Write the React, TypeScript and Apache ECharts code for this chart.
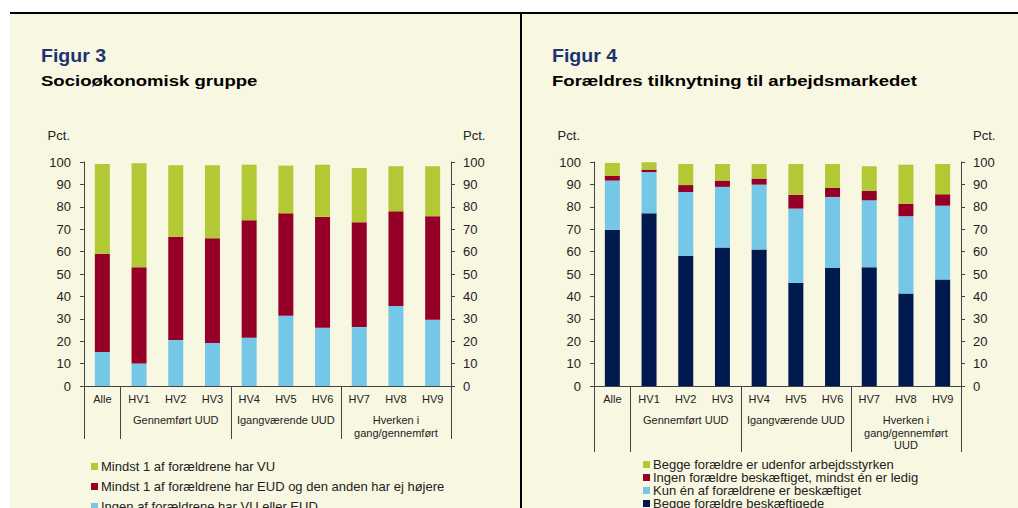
import React, { useEffect, useRef } from 'react';
import * as echarts from 'echarts';

const categories = ['Alle', 'HV1', 'HV2', 'HV3', 'HV4', 'HV5', 'HV6', 'HV7', 'HV8', 'HV9'];
const groupLabels3 = ['', '', 'Gennemført UUD', '', '', 'Igangværende UUD', '', '', 'Hverken i\ngang/gennemført', ''];
const groupLabels4 = ['', '', 'Gennemført UUD', '', '', 'Igangværende UUD', '', '', 'Hverken i\ngang/gennemført\nUUD', ''];
const separatorIdx = [0, 1, 4, 7];
const yTicks = { min: 0, max: 100, interval: 10 };

// Figur 3
const fig3Names = [
  'Ingen af forældrene har VU eller EUD',
  'Mindst 1 af forældrene har EUD og den anden har ej højere',
  'Mindst 1 af forældrene har VU',
];
const fig3Ingen = [15.2, 10.1, 20.5, 19.2, 21.5, 31.4, 26.0, 26.3, 35.7, 29.6];
const fig3EUD = [43.8, 42.9, 46.1, 46.8, 52.5, 45.7, 49.5, 46.8, 42.3, 46.2];
const fig3VU = [40.1, 46.4, 31.9, 32.5, 24.8, 21.3, 23.3, 24.2, 20.1, 22.3];

// Figur 4
const fig4Names = [
  'Begge forældre beskæftigede',
  'Kun én af forældrene er beskæftiget',
  'Ingen forældre beskæftiget, mindst én er ledig',
  'Begge forældre er udenfor arbejdsstyrken',
];
const fig4Begge = [69.8, 77.1, 58.2, 61.8, 60.9, 46.1, 52.7, 53.0, 41.3, 47.5];
const fig4Kun = [21.9, 18.4, 28.4, 27.1, 29.0, 33.1, 31.7, 29.9, 34.5, 33.0];
const fig4Ledig = [2.2, 1.1, 3.1, 2.8, 2.7, 6.1, 4.0, 4.3, 5.5, 5.1];
const fig4Uden = [5.7, 3.3, 9.4, 7.4, 6.5, 13.8, 10.7, 10.9, 17.5, 13.5];

const GREEN = '#b2c935';
const RED = '#960028';
const BLUE = '#74c7e6';
const NAVY = '#001a50';
const CREAM = '#f8f7e1';
const AXIS = '#444444';
const TXT = '#222222';
const TITLE = '#1c3370';
const FONT = '"Liberation Sans", Arial, sans-serif';

function xAxes(g: number, groups: string[], sepLen: number) {
  return [
    {
      type: 'category',
      gridIndex: g,
      data: categories,
      axisLine: { show: true, lineStyle: { color: AXIS, width: 1 } },
      axisTick: {
        show: true,
        length: sepLen,
        interval: (i: number) => separatorIdx.includes(i),
        lineStyle: { color: AXIS, width: 1 },
      },
      axisLabel: { interval: 0, fontSize: 11, color: TXT, margin: 7, fontFamily: FONT },
    },
    {
      type: 'category',
      gridIndex: g,
      position: 'bottom',
      data: categories,
      axisLine: { show: false },
      axisTick: { show: false },
      axisLabel: {
        interval: 0,
        fontSize: 11,
        lineHeight: 12.5,
        color: TXT,
        margin: 28,
        fontFamily: FONT,
        formatter: (_v: string, i: number) => groups[i],
      },
    },
  ];
}

function yAxes(g: number) {
  const base = {
    type: 'value',
    gridIndex: g,
    ...yTicks,
    splitLine: { show: false },
    axisLine: { show: true, lineStyle: { color: AXIS, width: 1 } },
    axisTick: { show: true, length: 4, lineStyle: { color: AXIS } },
    name: 'Pct.',
    nameLocation: 'end',
    nameGap: 27,
  };
  return [
    {
      ...base,
      position: 'left',
      axisLabel: { fontSize: 13, color: TXT, margin: 13, fontFamily: FONT },
      nameTextStyle: { align: 'right', verticalAlign: 'middle', padding: [0, 14, 0, 0], fontSize: 13, color: TXT, fontFamily: FONT },
    },
    {
      ...base,
      position: 'right',
      axisLabel: { fontSize: 13, color: TXT, margin: 12, fontFamily: FONT },
      nameTextStyle: { align: 'left', verticalAlign: 'middle', padding: [0, 0, 0, 12], fontSize: 13, color: TXT, fontFamily: FONT },
    },
  ];
}

function bar(name: string, data: number[], color: string, g: number) {
  return {
    type: 'bar',
    name,
    data,
    stack: 'g' + g,
    xAxisIndex: g * 2,
    yAxisIndex: g * 2,
    barWidth: 15,
    itemStyle: { color },
  };
}

function titleText(text: string, x: number, y: number, size: number, color: string, scaleX: number) {
  return {
    type: 'text',
    x,
    y,
    scaleX,
    style: { text, fontSize: size, fontWeight: 'bold', fontFamily: FONT, fill: color, verticalAlign: 'top' },
  };
}

export default function App() {
  const ref = useRef<HTMLDivElement>(null);
  useEffect(() => {
    if (!ref.current) return;
    const chart = echarts.init(ref.current, undefined, { renderer: 'svg' });
    chart.setOption({
      animation: false,
      textStyle: { fontFamily: FONT },
      graphic: {
        elements: [
          titleText('Figur 3', 41, 46, 19, TITLE, 1.03),
          titleText('Socioøkonomisk gruppe', 41, 74, 14.5, '#000', 1.28),
          titleText('Figur 4', 552, 46, 19, TITLE, 1.03),
          titleText('Forældres tilknytning til arbejdsmarkedet', 552, 74, 14.5, '#000', 1.28),
        ],
      },
      legend: [
        {
          data: [fig3Names[2], fig3Names[1], fig3Names[0]],
          orient: 'vertical',
          left: 91,
          top: 460,
          height: 120,
          itemWidth: 7,
          itemHeight: 7,
          itemGap: 7,
          icon: 'rect',
          padding: 0,
          textStyle: { fontSize: 13, color: TXT, fontFamily: FONT, padding: [0, 0, 0, -2] },
        },
        {
          data: [fig4Names[3], fig4Names[2], fig4Names[1], fig4Names[0]],
          orient: 'vertical',
          left: 643,
          top: 458,
          height: 120,
          itemWidth: 7,
          itemHeight: 7,
          itemGap: 0,
          icon: 'rect',
          padding: 0,
          textStyle: { fontSize: 13, lineHeight: 13, color: TXT, fontFamily: FONT, padding: [0, 0, 0, -2] },
        },
      ],
      grid: [
        { left: 84, top: 162, width: 367, height: 224 },
        { left: 594, top: 162, width: 367, height: 224 },
      ],
      xAxis: [...xAxes(0, groupLabels3, 53), ...xAxes(1, groupLabels4, 66)],
      yAxis: [...yAxes(0), ...yAxes(1)],
      series: [
        bar(fig3Names[0], fig3Ingen, BLUE, 0),
        bar(fig3Names[1], fig3EUD, RED, 0),
        bar(fig3Names[2], fig3VU, GREEN, 0),
        bar(fig4Names[0], fig4Begge, NAVY, 1),
        bar(fig4Names[1], fig4Kun, BLUE, 1),
        bar(fig4Names[2], fig4Ledig, RED, 1),
        bar(fig4Names[3], fig4Uden, GREEN, 1),
      ],
    });
    return () => chart.dispose();
  }, []);

  return (
    <div style={{ position: 'fixed', left: 0, top: 0, width: 1018, height: 508, background: '#fff', overflow: 'hidden' }}>
      <div style={{ position: 'absolute', left: 10, top: 14, width: 1008, height: 494, background: CREAM }} />
      <div style={{ position: 'absolute', left: 10, top: 12, width: 1008, height: 2, background: '#000' }} />
      <div style={{ position: 'absolute', left: 520, top: 12, width: 2, height: 496, background: '#000' }} />
      <div ref={ref} style={{ position: 'absolute', left: 0, top: 0, width: 1018, height: 508 }} />
    </div>
  );
}
